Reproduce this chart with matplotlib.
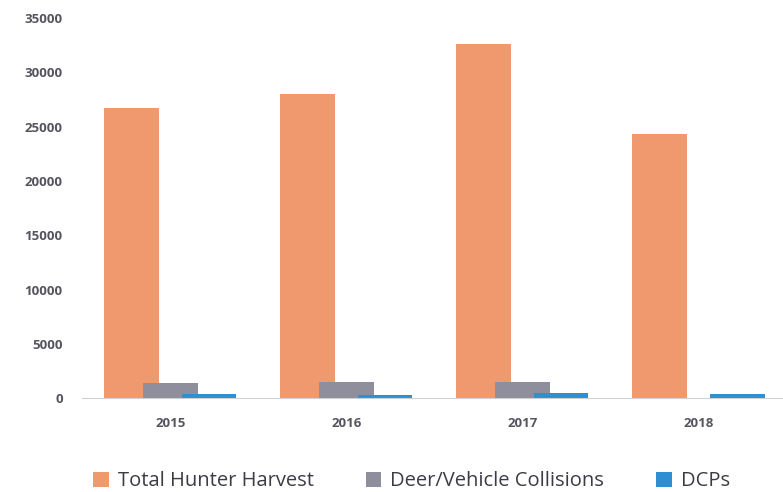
import matplotlib.pyplot as plt
import numpy as np

years = ['2015', '2016', '2017', '2018']
harvest = [26700, 28000, 32600, 24300]
collisions = [1400, 1450, 1450, 0]
dcps = [400, 300, 500, 400]

plt.rcParams['font.family'] = ['Open Sans', 'DejaVu Sans']

fig = plt.figure(figsize=(7.83, 4.92), dpi=100)
ax = fig.add_axes([0.105, 0.191, 0.895, 0.772])

x = np.arange(len(years))
w = 0.31
off = 0.22
ax.bar(x - off, harvest, w, color='#F0996E', label='Total Hunter Harvest')
ax.bar(x, collisions, w, color='#8E8E9C', label='Deer/Vehicle Collisions')
ax.bar(x + off, dcps, w, color='#2E8FD3', label='DCPs')

ax.set_xlim(-0.5, 3.48)
ax.set_ylim(0, 35000)
ax.set_yticks(range(0, 35001, 5000))
ax.set_xticks(x)
ax.set_xticklabels(years)
for s in ['top', 'right', 'left']:
    ax.spines[s].set_visible(False)
ax.spines['bottom'].set_color('#D0D0D0')
ax.tick_params(length=0, labelsize=9.5, labelcolor='#555560')
ax.tick_params(axis='x', pad=14)
ax.tick_params(axis='y', pad=14)
for t in ax.get_xticklabels() + ax.get_yticklabels():
    t.set_fontweight('bold')

# legend under the plot
ax.legend(loc='upper center', bbox_to_anchor=(0.47, -0.145), ncol=3, frameon=False,
          fontsize=14.5, handlelength=0.75, handleheight=0.75, columnspacing=2.6,
          handletextpad=0.45, labelcolor='#3C3C46')

fig.savefig('out.png', dpi=100)
